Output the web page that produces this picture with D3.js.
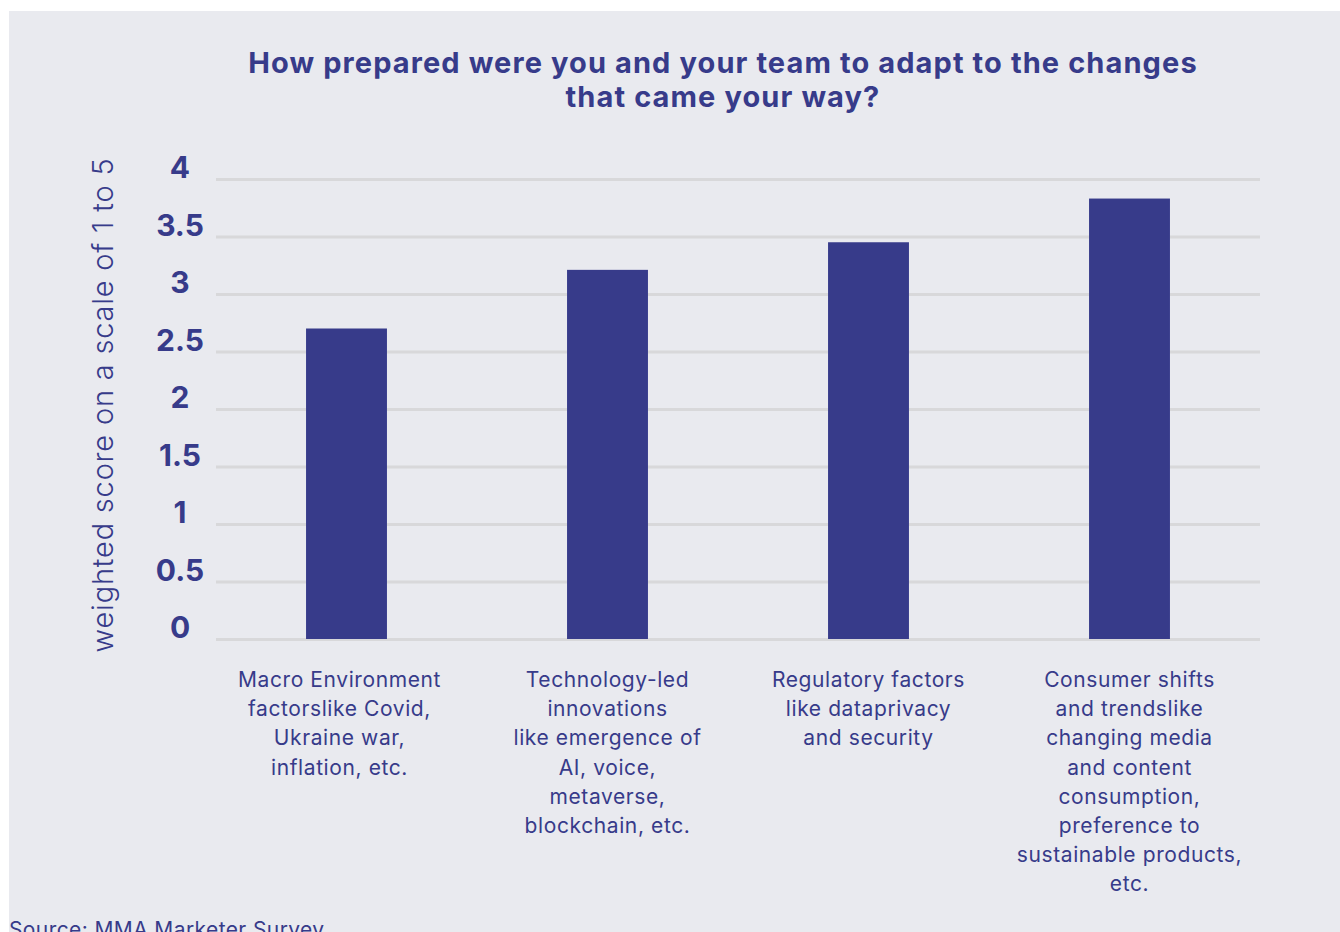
<!DOCTYPE html>
<html>
<head>
<meta charset="utf-8">
<script src="https://cdn.jsdelivr.net/npm/d3@7"></script>
<style>
  body { margin: 0; background: #ffffff; }
  svg { display: block; }
</style>
</head>
<body>
<div id="chart"></div>
<script>
// chart data
const categories = ["macro", "tech", "regulatory", "consumer"];
const scores = [2.70, 3.21, 3.45, 3.83];
const categoryLabels = [
  ["Macro Environment", "factorslike Covid,", "Ukraine war,", "inflation, etc."],
  ["Technology-led", "innovations", "like emergence of", "AI, voice,", "metaverse,", "blockchain, etc."],
  ["Regulatory factors", "like dataprivacy", "and security"],
  ["Consumer shifts", "and trendslike", "changing media", "and content", "consumption,", "preference to", "sustainable products,", "etc."]
];
const yTicks = [0, 0.5, 1, 1.5, 2, 2.5, 3, 3.5, 4];
const titleLines = ["How prepared were you and your team to adapt to the changes", "that came your way?"];

const svgWidth = 1340;
const svgHeight = 932;
const navy = "#373b8a";

const margin = { top: 179, right: 80, bottom: 293, left: 216 };
const width = svgWidth - margin.left - margin.right;
const height = svgHeight - margin.top - margin.bottom;

const svg = d3.select("#chart")
  .append("svg")
  .attr("width", svgWidth)
  .attr("height", svgHeight);

// grey panel
svg.append("rect")
  .attr("x", 9)
  .attr("y", 11)
  .attr("width", svgWidth - 9)
  .attr("height", svgHeight)
  .attr("fill", "#e9eaef");

// title
svg.append("text")
  .attr("x", 723)
  .attr("y", 73)
  .attr("text-anchor", "middle")
  .attr("font-family", "Inter, sans-serif")
  .attr("font-weight", 700)
  .attr("font-size", 29)
  .attr("letter-spacing", 1.1)
  .attr("fill", navy)
  .selectAll("tspan")
  .data(titleLines)
  .join("tspan")
  .attr("x", 723)
  .attr("dy", (d, i) => i === 0 ? 0 : 34)
  .text(d => d);

const chartGroup = svg.append("g")
  .attr("transform", `translate(${margin.left}, ${margin.top})`);

const xScale = d3.scaleBand()
  .domain(categories)
  .range([0, width])
  .paddingInner(0.69)
  .paddingOuter(0.345);

const yScale = d3.scaleLinear()
  .domain([0, 4])
  .range([height, 0]);

// gridlines
const leftAxis = d3.axisLeft(yScale)
  .tickValues(yTicks)
  .tickSize(-width)
  .tickFormat("");

chartGroup.append("g")
  .classed("grid", true)
  .call(leftAxis)
  .call(g => g.select(".domain").remove())
  .call(g => g.selectAll(".tick line")
    .attr("stroke", "#d8d8da")
    .attr("stroke-width", 3));

// y tick labels
chartGroup.append("g")
  .selectAll("text")
  .data(yTicks)
  .join("text")
  .attr("x", -36)
  .attr("y", d => yScale(d) - 1)
  .attr("text-anchor", "middle")
  .attr("font-family", "Inter, sans-serif")
  .attr("font-weight", 700)
  .attr("font-size", 30)
  .attr("fill", navy)
  .text(d => d);

// bars
chartGroup.selectAll("rect.bar")
  .data(scores)
  .join("rect")
  .classed("bar", true)
  .attr("x", (d, i) => xScale(categories[i]))
  .attr("y", d => yScale(d))
  .attr("width", xScale.bandwidth())
  .attr("height", d => height - yScale(d))
  .attr("fill", navy);

// x labels
const labelsGroup = chartGroup.append("g")
  .attr("transform", `translate(0, ${height})`);

labelsGroup.selectAll("text")
  .data(categoryLabels)
  .join("text")
  .attr("text-anchor", "middle")
  .attr("font-family", "Inter, sans-serif")
  .attr("font-size", 21)
  .attr("letter-spacing", 0.6)
  .attr("fill", navy)
  .each(function(lines, i) {
    const cx = xScale(categories[i]) + xScale.bandwidth() / 2 - (i === 0 ? 7 : 0);
    d3.select(this).selectAll("tspan")
      .data(lines)
      .join("tspan")
      .attr("x", cx)
      .attr("y", (d, j) => 48 + j * 29.2)
      .text(d => d);
  });

// y axis title
svg.append("text")
  .attr("transform", "rotate(-90)")
  .attr("x", -405)
  .attr("y", 113)
  .attr("text-anchor", "middle")
  .attr("font-family", "Inter, sans-serif")
  .attr("font-weight", 300)
  .attr("font-size", 29)
  .attr("letter-spacing", 0.8)
  .attr("fill", navy)
  .text("weighted score on a scale of 1 to 5");

// source
svg.append("text")
  .attr("x", 9)
  .attr("y", 937)
  .attr("font-family", "Inter, sans-serif")
  .attr("font-size", 21)
  .attr("letter-spacing", 0.4)
  .attr("fill", navy)
  .text("Source: MMA Marketer Survey");
</script>
</body>
</html>
